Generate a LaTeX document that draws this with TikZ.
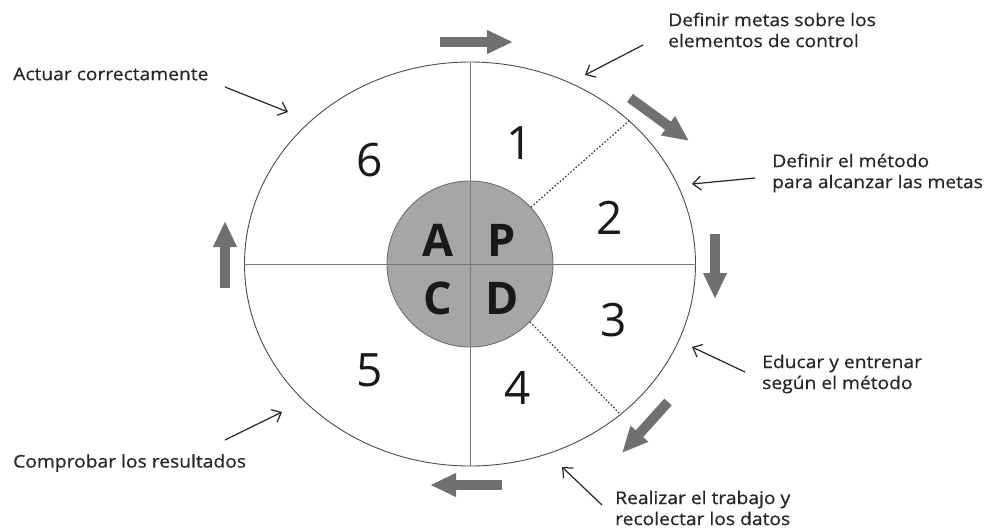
\documentclass[tikz,border=0pt]{standalone}
\usepackage{fontspec}
\setmainfont{Open Sans}
\newfontfamily\labelfont{Open Sans}[FakeStretch=1.1,FakeBold=0.6]
\usetikzlibrary{arrows.meta,shapes.geometric}
\definecolor{blockgray}{RGB}{112,112,112}
\definecolor{centergray}{RGB}{166,166,166}
\definecolor{linegray}{RGB}{120,120,120}
\begin{document}
\begin{tikzpicture}[x=1pt,y=-1pt,
  blockarrow/.style={draw=blockgray, line width=10pt, -{Triangle[length=26pt,width=22pt]}},
  thinarrow/.style={draw=black!85, line width=1.2pt, -{Straight Barb[length=8pt,width=14pt]}},
  label/.style={anchor=west, align=left, inner sep=0pt, font=\labelfont\fontsize{17.5}{21}\selectfont, text=black!85},
  digit/.style={font=\fontsize{46}{46}\selectfont, text=black!90},
  letter/.style={font=\bfseries\fontsize{45}{45}\selectfont, text=black!90},
  divider/.style={draw=linegray, line width=1pt},
  dottedline/.style={draw=black!80, line width=1.2pt, dash pattern=on 1.5pt off 2pt}]
\useasboundingbox (0,0) rectangle (984,528);
\fill[white] (0,0) rectangle (984,528);
% outer ellipse and center circle
\node[draw=black!70, line width=0.9pt, ellipse, minimum width=451pt, minimum height=404pt, inner sep=0pt] (outer) at (470,264) {};
\node[draw=black!60, line width=0.8pt, fill=centergray, circle, minimum size=166pt, inner sep=0pt] (inner) at (470,264) {};
% dividers
\draw[divider] (outer.north) -- (outer.south);
\draw[divider] (outer.west) -- (outer.east);
\draw[dottedline] (inner.43) -- (outer.42);
\draw[dottedline] (inner.-44) -- (outer.-45);
% letters
\node[letter] (la) at (438,240) {A};
\node[letter] (lp) at (502,240) {P};
\node[letter] (lc) at (438,298) {C};
\node[letter] (ld) at (502,298) {D};
% digits
\node[digit] (n1) at (520,143) {1};
\node[digit] (n2) at (610,218) {2};
\node[digit] (n3) at (614,320) {3};
\node[digit] (n4) at (518,388) {4};
\node[digit] (n5) at (370,370) {5};
\node[digit] (n6) at (370,160) {6};
% block arrows
\coordinate (g1s) at (440,42);  \coordinate (g1e) at (513,42);
\coordinate (g2s) at (630,98);  \coordinate (g2e) at (689,141);
\coordinate (g3s) at (715,234); \coordinate (g3e) at (715,299);
\coordinate (g4s) at (668,402); \coordinate (g4e) at (622,453);
\coordinate (g5s) at (502,485); \coordinate (g5e) at (430,485);
\coordinate (g6s) at (225,288); \coordinate (g6e) at (225,221);
\draw[blockarrow] (g1s) -- (g1e);
\draw[blockarrow] (g2s) -- (g2e);
\draw[blockarrow] (g3s) -- (g3e);
\draw[blockarrow] (g4s) -- (g4e);
\draw[blockarrow] (g5s) -- (g5e);
\draw[blockarrow] (g6s) -- (g6e);
% labels
\node[label] (t1) at (668,30) {Definir metas sobre los\\elementos de control};
\node[label] (t2) at (772,173) {Definir el método\\para alcanzar las metas};
\node[label] (t3) at (762,374) {Educar y entrenar\\según el método};
\node[label] (t4) at (615,508) {Realizar el trabajo y\\recolectar los datos};
\node[label] (t5) at (13,463) {Comprobar los resultados};
\node[label] (t6) at (13,74) {Actuar correctamente};
% thin arrows
\coordinate (a1s) at (643,45); \coordinate (a1e) at (585,75);
\coordinate (a2s) at (755,178); \coordinate (a2e) at (692,184);
\coordinate (a3s) at (745,372); \coordinate (a3e) at (692,347);
\coordinate (a4s) at (602,505); \coordinate (a4e) at (562,467);
\coordinate (a5s) at (225,440); \coordinate (a5e) at (282,412);
\coordinate (a6s) at (225,87); \coordinate (a6e) at (288,112);
\draw[thinarrow] (a1s) -- (a1e);
\draw[thinarrow] (a2s) -- (a2e);
\draw[thinarrow] (a3s) -- (a3e);
\draw[thinarrow] (a4s) -- (a4e);
\draw[thinarrow] (a5s) -- (a5e);
\draw[thinarrow] (a6s) -- (a6e);
\end{tikzpicture}
\end{document}
